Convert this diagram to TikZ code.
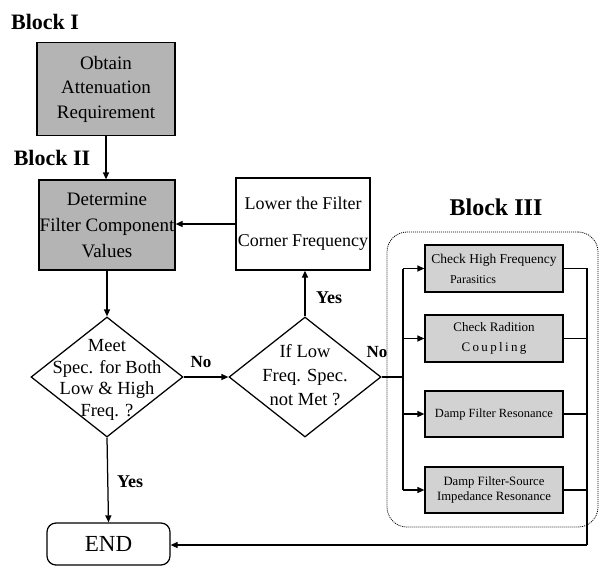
\documentclass[tikz,border=0pt]{standalone}
\usepackage{fontspec}
\setmainfont{Liberation Serif}
\usetikzlibrary{shapes.geometric,arrows.meta}
\definecolor{darkfill}{HTML}{B4B4B4}
\definecolor{lightfill}{HTML}{D2D2D2}
\tikzset{
  ln/.style={line width=1.25pt},
  arr/.style={ln,-{Triangle[length=7pt,width=6pt]}},
  darkbox/.style={draw, ln, fill=darkfill, align=center, inner sep=0pt},
  plainbox/.style={draw, ln, align=center, inner sep=0pt},
  lightbox/.style={draw, ln, fill=lightfill, align=center, inner sep=0pt, minimum width=138pt},
  decision/.style={draw, ln, diamond, inner sep=0pt, minimum width=152pt, minimum height=120pt},
  blocklabel/.style={font=\bfseries\fontsize{22}{22}\selectfont, inner sep=0pt},
  edgelabel/.style={font=\bfseries\fontsize{17}{17}\selectfont, inner sep=0pt},
  bigtext/.style={font=\fontsize{18}{22}\selectfont, align=center, inner sep=0pt},
  group/.style={draw, line width=0.8pt, dash pattern=on 1pt off 1pt, rounded corners=20pt, inner sep=0pt}
}
\begin{document}
\begin{tikzpicture}[x=1pt,y=-1pt]
\useasboundingbox (0,0) rectangle (599,566);

% Block labels
\node[blocklabel] (lbl1) at (45,22) {Block I};
\node[blocklabel] (lbl2) at (52,158) {Block II};
\node[blocklabel, font=\bfseries\fontsize{24}{24}\selectfont] (lbl3) at (496,207) {Block III};

% Block III container
\node[group, minimum width=211pt, minimum height=295pt] (grp) at (492.5,379.5) {};

% Main boxes
\node[darkbox, minimum width=138pt, minimum height=93pt, font=\fontsize{19}{24.5}\selectfont] (obtain) at (106,89) {Obtain\\Attenuation\\Requirement};
\node[darkbox, minimum width=136pt, minimum height=90pt, font=\fontsize{19}{26}\selectfont] (determine) at (107,225) {Determine\\Filter Component\\Values};
\node[plainbox, minimum width=134pt, minimum height=92pt, font=\fontsize{18}{37}\selectfont] (lower) at (303,224) {Lower the Filter\\Corner Frequency};

% Decisions
\node[decision] (d1) at (107,377) {};
\node[bigtext, font=\fontsize{18.5}{21.7}\selectfont] (d1t) at (107,380) {Meet\\Spec. for Both\\Low \& High\\Freq. ?};
\node[decision] (d2) at (305,377) {};
\node[bigtext, font=\fontsize{18.5}{24}\selectfont] (d2t) at (305,375) {If Low\\Freq. Spec.\\not Met ?};

% END
\node[draw, ln, rounded corners=9pt, minimum width=123pt, minimum height=42pt, inner sep=0pt, font=\fontsize{23}{23}\selectfont] (end) at (108.5,544) {END};

% Block III boxes
\node[lightbox, minimum height=47pt, font=\fontsize{13.5}{20}\selectfont] (ca) at (494,268.5) {Check High Frequency\\{\fontsize{12}{12}\selectfont\hspace*{-42pt}Parasitics}};
\node[lightbox, minimum height=47pt, font=\fontsize{13}{20}\selectfont] (cb) at (494,338.5) {Check Radition\\{\addfontfeature{LetterSpace=18}Coupling}};
\node[lightbox, minimum height=46pt, font=\fontsize{12.5}{15}\selectfont] (cc) at (494,414) {Damp Filter Resonance};
\node[lightbox, minimum height=46pt, font=\fontsize{12.7}{15}\selectfont] (cd) at (494,490) {Damp Filter-Source\\Impedance Resonance};

% Connectors
\draw[arr] (obtain.south) -- (obtain.south |- determine.north);
\draw[arr] (lower.west) -- (lower.west -| determine.east);
\draw[arr] (determine.south) -- (d1.north);
\draw[arr] (d1.east) -- (d2.west);
\draw[arr] (d2.north) -- (d2.north |- lower.south);
\draw[arr] (d1.south) -- (end.north);

\coordinate (bus) at (403,377);
\coordinate (rb) at (587,545);
\draw[ln] (d2.east) -- (bus);
\draw[ln] (bus |- ca.west) -- (bus |- cd.west);
\draw[arr] (bus |- ca.west) -- (ca.west);
\draw[arr] (bus |- cb.west) -- (cb.west);
\draw[arr] (bus |- cc.west) -- (cc.west);
\draw[arr] (bus |- cd.west) -- (cd.west);
\draw[ln] (ca.east) -- (rb |- ca.east) -- (rb);
\draw[ln] (cb.east) -- (rb |- cb.east);
\draw[ln] (cc.east) -- (rb |- cc.east);
\draw[ln] (cd.east) -- (rb |- cd.east);
\draw[arr] (rb) -- (end.east |- rb);

% Edge labels
\node[edgelabel] (no1) at (201,362) {No};
\node[edgelabel] (no2) at (377,352) {No};
\node[edgelabel, font=\bfseries\fontsize{18}{18}\selectfont] (yes1) at (329,298) {Yes};
\node[edgelabel, font=\bfseries\fontsize{18}{18}\selectfont] (yes2) at (130,482) {Yes};
\end{tikzpicture}
\end{document}
